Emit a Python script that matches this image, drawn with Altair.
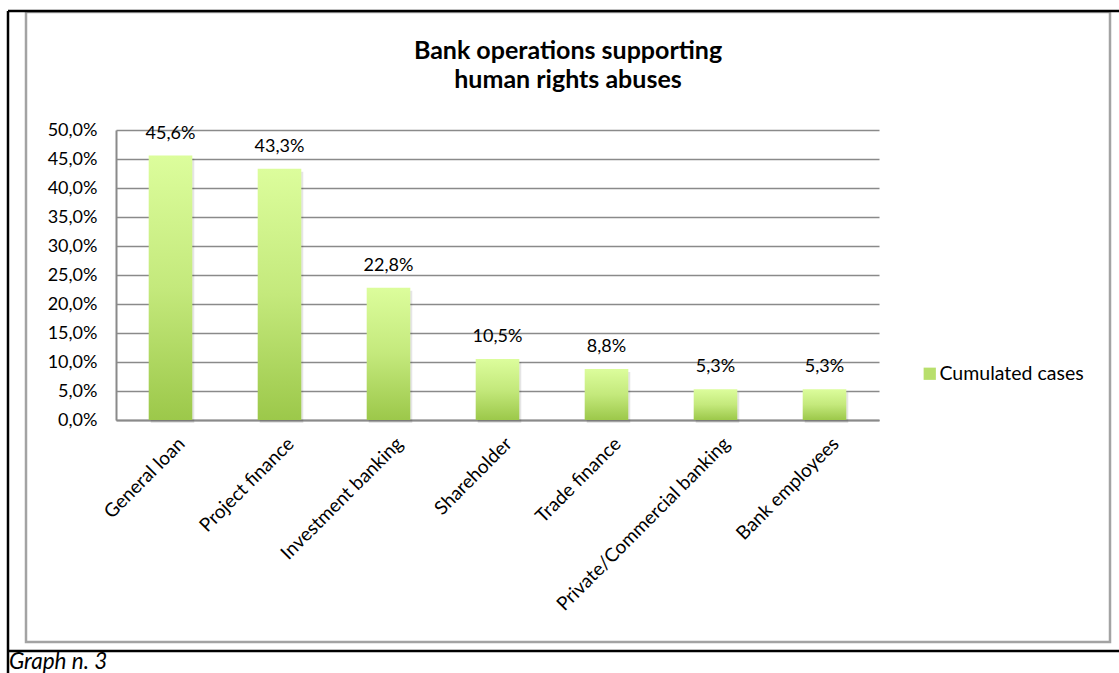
import altair as alt
import pandas as pd

categories = ["General loan", "Project finance", "Investment banking", "Shareholder",
              "Trade finance", "Private/Commercial banking", "Bank employees"]
values = [0.456, 0.433, 0.228, 0.105, 0.088, 0.053, 0.053]
series_name = "Cumulated cases"
y_ticks = [0.0, 0.05, 0.10, 0.15, 0.20, 0.25, 0.30, 0.35, 0.40, 0.45, 0.50]
title_lines = ["Bank operations supporting", "human rights abuses"]
caption = "Graph n. 3"

df = pd.DataFrame({"category": categories, "value": values, "series": series_name})

FONT = "Lato"
W, H = 763, 290
LEFT, TOP = 116, 130

grad = alt.Gradient(
    gradient="linear",
    stops=[alt.GradientStop(color="#dcfd9c", offset=0),
           alt.GradientStop(color="#c4e97c", offset=0.5),
           alt.GradientStop(color="#9cc84a", offset=1)],
    x1=0, x2=0, y1=0, y2=1,
)

xscale = alt.Scale(paddingInner=0.6, paddingOuter=0.3)
xenc = alt.X("category:N", sort=None, scale=xscale,
             axis=alt.Axis(title=None, labelAngle=-45, labelFont=FONT, labelFontSize=19,
                           labelColor="#000000", ticks=False, labelPadding=14,
                           labelBaseline="top", labelAlign="right", labelOffset=5,
                           domainColor="#8a8a8a", domainWidth=2, labelLimit=400,
                           labelOverlap=False))
yenc = alt.Y("value:Q",
             scale=alt.Scale(domain=[0, 0.5], nice=False),
             axis=alt.Axis(title=None, values=y_ticks, tickCount=12, ticks=False, labelPadding=19,
                           labelOverlap=False,
                           labelExpr="replace(format(datum.value, '.1%'), '.', ',')",
                           labelFont=FONT, labelFontSize=18, labelColor="#000000",
                           gridColor="#8a8a8a", gridWidth=1.6,
                           domainColor="#8a8a8a", domainWidth=2))

base = alt.Chart(df)

shadow = base.mark_bar(fill="#000000", opacity=0.10, xOffset=2, yOffset=3).encode(
    x=alt.X("category:N", sort=None), y="value:Q")
bars = base.mark_bar(fill=grad).encode(x=xenc, y=yenc)

labels = base.transform_calculate(
    lbl="replace(format(datum.value, '.1%'), '.', ',')"
).mark_text(font=FONT, fontSize=18, color="#000000", baseline="alphabetic", dy=-17).encode(
    x=alt.X("category:N", sort=None), y="value:Q", text="lbl:N")

legend_layer = base.transform_filter("datum.category == 'General loan'").mark_bar().encode(
    x=alt.X("category:N", sort=None),
    y=alt.Y("value:Q"),
    y2=alt.Y2("value:Q"),
    color=alt.Color("series:N", scale=alt.Scale(range=["#b8df6c"]),
                    legend=alt.Legend(title=None, orient="none", legendX=804, legendY=234,
                                      symbolType="square", symbolSize=150, symbolStrokeWidth=0,
                                      labelFont=FONT, labelFontSize=19.5, labelColor="#000000",
                                      padding=0, labelOffset=0)),
)

one = pd.DataFrame({"a": [0]})
deco = alt.Chart(one)

inner_border = deco.mark_rect(fill=None, stroke="#a3a3a3", strokeWidth=2.5).encode(
    x=alt.value(26 - LEFT), x2=alt.value(1110 - LEFT),
    y=alt.value(12 - TOP), y2=alt.value(642 - TOP))
top_line = deco.mark_rule(color="#000000", strokeWidth=2.5).encode(
    x=alt.value(8 - LEFT), x2=alt.value(1119 - LEFT), y=alt.value(11 - TOP))
left_line = deco.mark_rule(color="#000000", strokeWidth=2.5).encode(
    x=alt.value(8 - LEFT), y=alt.value(11 - TOP), y2=alt.value(673 - TOP))
bottom_line = deco.mark_rule(color="#000000", strokeWidth=2.5).encode(
    x=alt.value(8 - LEFT), x2=alt.value(1119 - LEFT), y=alt.value(651 - TOP))

title = deco.mark_text(font=FONT, fontSize=25, fontWeight="bold", color="#000000",
                       align="center", baseline="alphabetic", lineHeight=29).encode(
    x=alt.value(568 - LEFT), y=alt.value(59 - TOP), text=alt.value(title_lines))
cap = deco.mark_text(font=FONT, fontSize=22.5, fontStyle="italic", color="#000000",
                     align="left", baseline="alphabetic").encode(
    x=alt.value(9 - LEFT), y=alt.value(669 - TOP), text=alt.value(caption))

chart = alt.layer(inner_border, top_line, left_line, bottom_line, title, cap,
                  shadow, bars, labels, legend_layer).properties(
    width=W, height=H,
    autosize=alt.AutoSizeParams(type="none"),
    padding={"left": LEFT, "top": TOP, "right": 1119 - LEFT - W, "bottom": 673 - TOP - H},
    background="#ffffff",
).configure_view(stroke=None)

chart.save("out.html", embed_options={"renderer": "svg", "actions": False})
